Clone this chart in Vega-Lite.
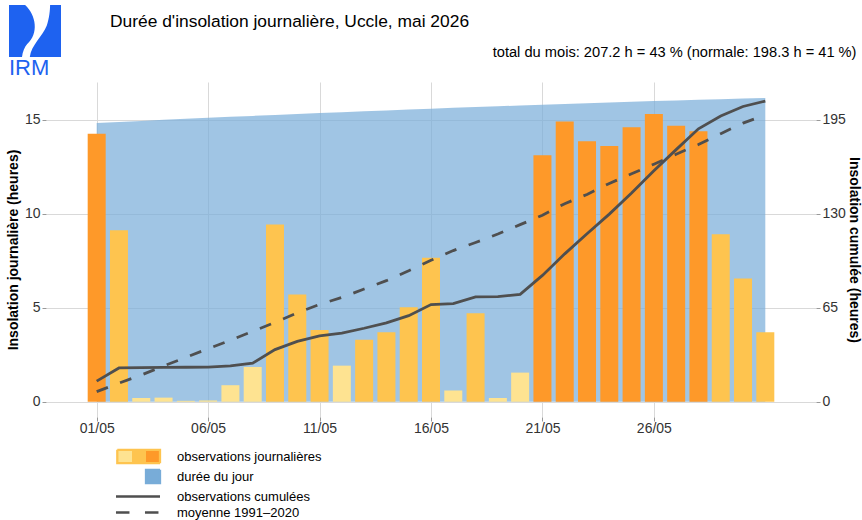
{
  "$schema": "https://vega.github.io/schema/vega-lite/v6.json",
  "width": 770,
  "height": 335,
  "autosize": {"type": "none"},
  "padding": {"left": 46, "top": 82, "right": 46, "bottom": 103},
  "background": "white",
  "config": {
    "font": "Liberation Sans",
    "view": {"stroke": null},
    "axis": {"gridColor": "#d9d9d9", "gridWidth": 1, "tickColor": "#999999", "tickSize": 4, "domain": false, "labelFontSize": 14, "labelColor": "#333333", "titleColor": "black", "titleFontSize": 14, "titleFontWeight": "bold"}
  },
  "title": {
    "text": "Durée d'insolation journalière, Uccle, mai 2026",
    "anchor": "start",
    "frame": "group",
    "dx": 64,
    "offset": -39,
    "baseline": "alphabetic",
    "fontSize": 17.4,
    "fontWeight": "normal",
    "color": "black"
  },
  "data": {
    "values": [
      {"day": 1, "obs": 14.25, "classe": "fort", "daylen": 14.82, "cum": 14.25, "norm": 7.0},
      {"day": 2, "obs": 9.12, "classe": "moyen", "daylen": 14.877, "cum": 23.37, "norm": 12.9},
      {"day": 3, "obs": 0.2, "classe": "faible", "daylen": 14.932, "cum": 23.57, "norm": 18.5},
      {"day": 4, "obs": 0.22, "classe": "faible", "daylen": 14.987, "cum": 23.79, "norm": 24.7},
      {"day": 5, "obs": 0.05, "classe": "faible", "daylen": 15.041, "cum": 23.84, "norm": 30.7},
      {"day": 6, "obs": 0.07, "classe": "faible", "daylen": 15.095, "cum": 23.91, "norm": 36.7},
      {"day": 7, "obs": 0.88, "classe": "faible", "daylen": 15.147, "cum": 24.79, "norm": 42.5},
      {"day": 8, "obs": 1.85, "classe": "faible", "daylen": 15.199, "cum": 26.64, "norm": 48.7},
      {"day": 9, "obs": 9.43, "classe": "moyen", "daylen": 15.249, "cum": 36.07, "norm": 54.8},
      {"day": 10, "obs": 5.7, "classe": "moyen", "daylen": 15.299, "cum": 41.77, "norm": 61.4},
      {"day": 11, "obs": 3.82, "classe": "moyen", "daylen": 15.348, "cum": 45.59, "norm": 67.3},
      {"day": 12, "obs": 1.92, "classe": "faible", "daylen": 15.397, "cum": 47.51, "norm": 72.1},
      {"day": 13, "obs": 3.3, "classe": "moyen", "daylen": 15.444, "cum": 50.81, "norm": 77.9},
      {"day": 14, "obs": 3.7, "classe": "moyen", "daylen": 15.491, "cum": 54.51, "norm": 83.7},
      {"day": 15, "obs": 5.02, "classe": "moyen", "daylen": 15.536, "cum": 59.53, "norm": 90.5},
      {"day": 16, "obs": 7.65, "classe": "moyen", "daylen": 15.581, "cum": 67.18, "norm": 97.8},
      {"day": 17, "obs": 0.6, "classe": "faible", "daylen": 15.625, "cum": 67.78, "norm": 104.5},
      {"day": 18, "obs": 4.7, "classe": "moyen", "daylen": 15.669, "cum": 72.48, "norm": 110.1},
      {"day": 19, "obs": 0.2, "classe": "faible", "daylen": 15.711, "cum": 72.68, "norm": 115.9},
      {"day": 20, "obs": 1.55, "classe": "faible", "daylen": 15.753, "cum": 74.23, "norm": 122.4},
      {"day": 21, "obs": 13.1, "classe": "fort", "daylen": 15.793, "cum": 87.33, "norm": 128.9},
      {"day": 22, "obs": 14.9, "classe": "fort", "daylen": 15.833, "cum": 102.23, "norm": 136.9},
      {"day": 23, "obs": 13.85, "classe": "fort", "daylen": 15.872, "cum": 116.08, "norm": 143.3},
      {"day": 24, "obs": 13.6, "classe": "fort", "daylen": 15.911, "cum": 129.68, "norm": 150.9},
      {"day": 25, "obs": 14.6, "classe": "fort", "daylen": 15.948, "cum": 144.28, "norm": 157.6},
      {"day": 26, "obs": 15.3, "classe": "fort", "daylen": 15.985, "cum": 159.58, "norm": 164.2},
      {"day": 27, "obs": 14.68, "classe": "fort", "daylen": 16.02, "cum": 174.26, "norm": 171.1},
      {"day": 28, "obs": 14.38, "classe": "fort", "daylen": 16.055, "cum": 188.64, "norm": 177.8},
      {"day": 29, "obs": 8.9, "classe": "moyen", "daylen": 16.089, "cum": 197.54, "norm": 185.3},
      {"day": 30, "obs": 6.55, "classe": "moyen", "daylen": 16.123, "cum": 204.09, "norm": 192.6},
      {"day": 31, "obs": 3.7, "classe": "moyen", "daylen": 16.155, "cum": 207.79, "norm": 198.3}
    ]
  },
  "layer": [
    {
      "layer": [
        {
          "mark": {"type": "area", "color": "#78acd8", "opacity": 0.7},
          "encoding": {
            "x": {
              "field": "day", "type": "quantitative",
              "scale": {"domain": [-1.05, 33.05], "nice": false, "zero": false},
              "axis": {"orient": "bottom", "values": [1, 6, 11, 16, 21, 26], "labelExpr": "(datum.value < 10 ? '0' : '') + datum.value + '/05'", "title": null, "grid": true, "labelPadding": 0}
            },
            "y": {
              "field": "daylen", "type": "quantitative",
              "scale": {"domain": [-0.81, 17.0], "nice": false, "zero": false},
              "axis": {"orient": "left", "values": [0, 5, 10, 15], "grid": true, "labelPadding": 2, "title": "Insolation journalière (heures)", "titlePadding": 4}
            }
          }
        },
        {
          "mark": {"type": "bar", "width": 18},
          "encoding": {
            "x": {"field": "day", "type": "quantitative"},
            "y": {"field": "obs", "type": "quantitative"},
            "fill": {
              "field": "classe", "type": "nominal",
              "scale": {"domain": ["faible", "moyen", "fort"], "range": ["#fee391", "#fec44f", "#fe9929"]},
              "legend": null
            },
            "opacity": {
              "datum": "IRM", "type": "nominal",
              "scale": {"domain": ["IRM"], "range": [1]},
              "legend": {
                "orient": "none", "legendX": -37, "legendY": -77,
                "labelExpr": "''", "labelOffset": 0, "padding": 0,
                "title": "IRM", "titleOrient": "bottom", "titleFontSize": 22, "titleFontWeight": "normal",
                "titleColor": "#1e62f0", "titleAnchor": "start", "titlePadding": 1,
                "symbolSize": 2704, "symbolStrokeWidth": 0, "symbolFillColor": "#1e62f0",
                "symbolType": "M-1,-1L-0.38,-1C0.05,-0.6 0.15,0.1 -0.3,0.5C-0.4,0.62 -0.48,0.8 -0.5,1L-1,1ZM0.58,-1L1,-1L1,1L-0.2,1C-0.15,0.55 0.3,0.2 0.45,-0.2C0.55,-0.5 0.58,-0.8 0.58,-1Z",
                "encode": {"symbols": {"update": {
                  "shape": {"value": "M-1,-1L-0.38,-1C0.05,-0.6 0.15,0.1 -0.3,0.5C-0.4,0.62 -0.48,0.8 -0.5,1L-1,1ZM0.58,-1L1,-1L1,1L-0.2,1C-0.15,0.55 0.3,0.2 0.45,-0.2C0.55,-0.5 0.58,-0.8 0.58,-1Z"},
                  "size": {"value": 2704},
                  "fill": {"value": "#1e62f0"}, "stroke": {"value": "transparent"}, "strokeWidth": {"value": 0}, "opacity": {"value": 1}}}}
              }
            }
          }
        }
      ]
    },
    {
      "layer": [
        {
          "mark": {"type": "line", "strokeWidth": 2.8},
          "encoding": {
            "x": {
              "field": "day", "type": "quantitative",
              "axis": {"orient": "top", "labels": false, "ticks": false, "grid": false, "domain": false,
                "title": "total du mois: 207.2 h = 43 % (normale: 198.3 h = 41 %)",
                "titleX": 810, "titleY": -26, "titleAlign": "right", "titleBaseline": "alphabetic", "titleAngle": 0,
                "titleFontSize": 14.65, "titleFontWeight": "normal", "titleColor": "black"}
            },
            "y": {
              "field": "cum", "type": "quantitative",
              "scale": {"domain": [-10.53, 221.0], "nice": false, "zero": false},
              "axis": {"orient": "right", "values": [0, 65, 130, 195], "grid": false, "labelPadding": 2, "title": "Insolation cumulée (heures)", "titlePadding": 1.5}
            },
            "color": {
              "datum": "observations cumulées", "type": "nominal",
              "scale": {"domain": ["observations journalières", "durée du jour", "observations cumulées", "moyenne 1991–2020"], "range": ["#fec44f", "#78acd8", "#4f4f4f", "#4f4f4f"]},
              "legend": {
                "orient": "none", "legendX": 98.5, "legendY": 366, "title": null, "padding": 0,
                "labelFontSize": 13, "labelColor": "black", "labelLimit": 300, "labelOffset": 15.5,
                "symbolSize": 196, "symbolStrokeWidth": 2.3, "rowPadding": -6.5,
                "encode": {
                  "symbols": {
                    "update": {
                      "shape": {"signal": "datum.value === 'observations journalières' ? 'M-5.1,-0.95H1V0.95H-5.1Z' : datum.value === 'durée du jour' ? 'M-1,-0.95H1V0.95H-1Z' : 'M-5.29,0H1'"},
                      "fill": {"signal": "datum.value === 'observations journalières' ? {gradient: 'linear', stops: [{offset: 0, color: '#fee391'}, {offset: 0.3333, color: '#fee391'}, {offset: 0.3333, color: '#fec44f'}, {offset: 0.6667, color: '#fec44f'}, {offset: 0.6667, color: '#fe9929'}, {offset: 1, color: '#fe9929'}]} : datum.value === 'durée du jour' ? '#78acd8' : 'transparent'"},
                      "stroke": {"signal": "datum.value === 'observations cumulées' || indexof(datum.value, 'moyenne') === 0 ? '#4f4f4f' : 'transparent'"},
                      "strokeWidth": {"value": 2.3},
                      "strokeDash": {"signal": "indexof(datum.value, 'moyenne') === 0 ? [13.5, 15.5] : [1, 0]"},
                      "size": {"value": 196},
                      "opacity": {"value": 1}
                    }
                  }
                }
              }
            }
          }
        },
        {
          "mark": {"type": "line", "strokeWidth": 2.8, "strokeDash": [12, 13]},
          "encoding": {
            "x": {"field": "day", "type": "quantitative"},
            "y": {"field": "norm", "type": "quantitative"},
            "color": {"datum": "moyenne 1991–2020", "type": "nominal"}
          }
        }
      ]
    }
  ],
  "resolve": {"scale": {"y": "independent"}, "axis": {"x": "independent", "y": "independent"}}
}
